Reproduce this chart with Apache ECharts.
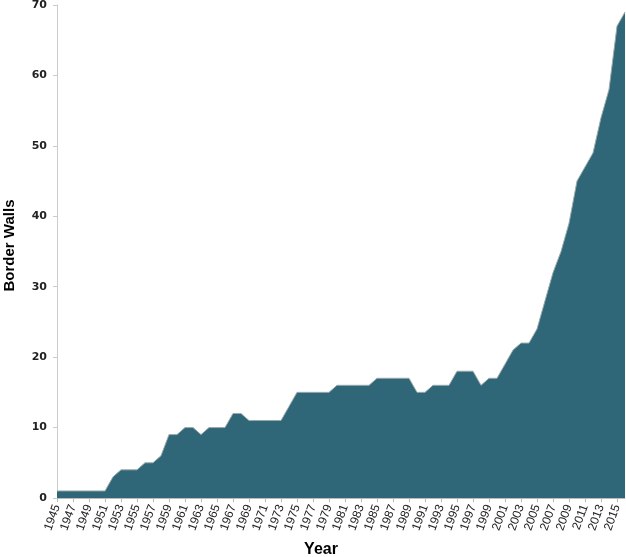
<!DOCTYPE html>
<html>
<head>
<meta charset="utf-8">
<script src="https://cdn.jsdelivr.net/npm/echarts@6/dist/echarts.min.js"></script>
<style>
  html, body { margin: 0; padding: 0; background: #fff; }
  #chart { width: 626px; height: 557px; }
</style>
</head>
<body>
<div id="chart"></div>
<script>
// years 1945 - 2016
var years = [];
for (var y = 1945; y <= 2016; y++) { years.push(String(y)); }

var walls = [
  1, 1, 1, 1, 1, 1, 1, 3, 4, 4,      // 1945-1954
  4, 5, 5, 6, 9, 9, 10, 10, 9, 10,   // 1955-1964
  10, 10, 12, 12, 11, 11, 11, 11, 11, 13, // 1965-1974
  15, 15, 15, 15, 15, 16, 16, 16, 16, 16, // 1975-1984
  17, 17, 17, 17, 17, 15, 15, 16, 16, 16, // 1985-1994
  18, 18, 18, 16, 17, 17, 19, 21, 22, 22, // 1995-2004
  24, 28, 32, 35, 39, 45, 47, 49, 54, 58, // 2005-2014
  67, 69                                  // 2015-2016
];

var yTicks = [0, 10, 20, 30, 40, 50, 60, 70];

var chart = echarts.init(document.getElementById('chart'));
var option = {
    animation: false,
    grid: {
        left: 57,
        right: 1,
        top: 5,
        bottom: 59,
        outerBoundsMode: 'none',
        containLabel: false
    },
    xAxis: {
        type: 'category',
        data: years,
        boundaryGap: false,
        name: 'Year',
        nameLocation: 'middle',
        nameGap: 44,
        nameTextStyle: {
            fontFamily: 'Liberation Sans',
            fontWeight: 'bold',
            fontSize: 16,
            color: '#000',
            padding: [0, 40, 0, 0]
        },
        axisLine: { lineStyle: { color: '#bbb' } },
        axisTick: { interval: 1, length: 4, lineStyle: { color: '#bbb' } },
        axisLabel: {
            interval: 1,
            rotate: 70,
            fontFamily: 'Liberation Sans',
            fontSize: 12,
            color: '#222',
            margin: 7
        },
        splitLine: { show: false }
    },
    yAxis: {
        type: 'value',
        min: yTicks[0],
        max: yTicks[yTicks.length - 1],
        interval: 10,
        name: 'Border Walls',
        nameLocation: 'middle',
        nameRotate: 90,
        nameGap: 40,
        nameTextStyle: {
            fontFamily: 'Liberation Sans',
            fontWeight: 'bold',
            fontSize: 15,
            color: '#000',
            padding: [0, 0, 0, 12]
        },
        axisLine: { show: true, lineStyle: { color: '#ccc' } },
        axisTick: { show: true, length: 4, lineStyle: { color: '#ccc' } },
        axisLabel: {
            fontFamily: 'DejaVu Sans',
            fontSize: 11,
            fontWeight: 'bold',
            color: '#222',
            margin: 10
        },
        splitLine: { show: false }
    },
    series: [{
        type: 'line',
        data: walls,
        showSymbol: false,
        lineStyle: { color: '#9aa', width: 1 },
        areaStyle: { color: '#2f6678', opacity: 1 }
    }]
};
chart.setOption(option);
</script>
</body>
</html>
